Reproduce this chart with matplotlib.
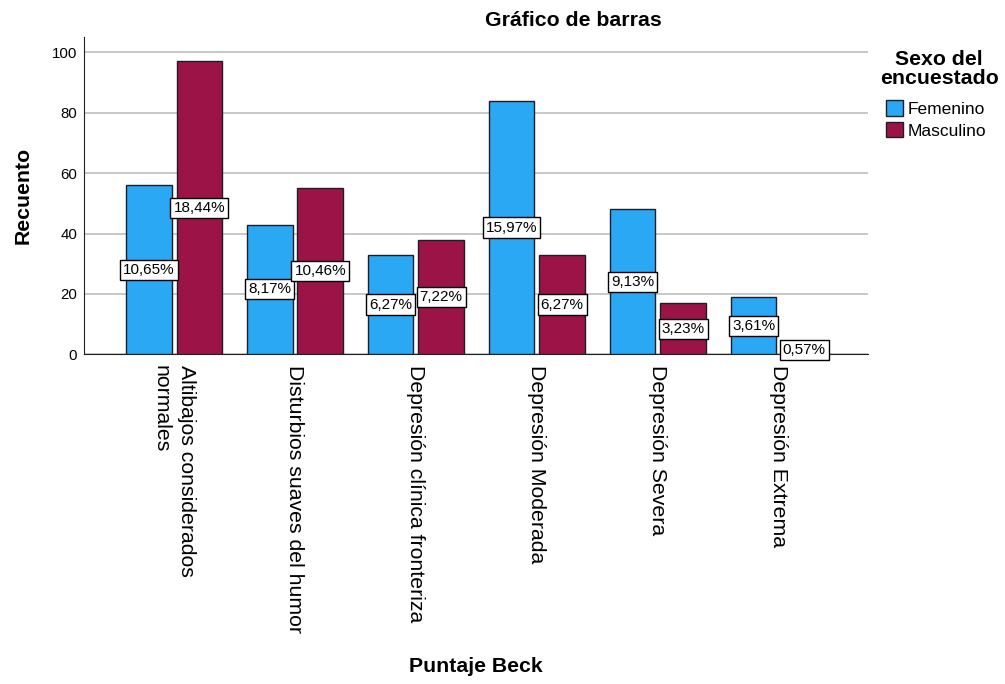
import matplotlib
matplotlib.use("Agg")
import matplotlib.pyplot as plt
import numpy as np

plt.rcParams['font.family'] = ['Liberation Sans', 'DejaVu Sans']

# Beck score categories and counts by sex
categorias = [
    'Altibajos considerados\nnormales',
    'Disturbios suaves del humor',
    'Depresión clínica fronteriza',
    'Depresión Moderada',
    'Depresión Severa',
    'Depresión Extrema',
]
femenino = [56, 43, 33, 84, 48, 19]
masculino = [97, 55, 38, 33, 17, 3]
series = ['Femenino', 'Masculino']
colores = ['#2aa8f4', '#9c1447']

total = sum(femenino) + sum(masculino)

fig = plt.figure(figsize=(10.05, 6.84), dpi=100)
ax = fig.add_axes([0.0836, 0.482, 0.780, 0.4643])

x = np.arange(len(categorias))
ancho = 0.377
desplaz = 0.209

for valores, nombre, color, signo in zip([femenino, masculino], series, colores, [-1, 1]):
    pos = x + signo * desplaz
    ax.bar(pos, valores, width=ancho, color=color, edgecolor='#1e1e2a',
           linewidth=1.0, label=nombre, zorder=3)
    for xi, v in zip(pos, valores):
        pct = v / total * 100
        ax.text(xi, v / 2, f"{pct:.2f}%".replace('.', ','), ha='center', va='center',
                fontsize=11, color='black', zorder=5,
                bbox=dict(boxstyle='square,pad=0.2', facecolor='white',
                          edgecolor='black', linewidth=1.0))

ax.set_xlim(-0.744, 5.736)
ax.set_ylim(0, 105.2)
ax.set_yticks([0, 20, 40, 60, 80, 100])
ax.yaxis.grid(True, color='#c4c4c4', linewidth=1.3, zorder=0)
ax.set_axisbelow(True)

ax.spines['top'].set_visible(False)
ax.spines['right'].set_visible(False)
ax.spines['left'].set_color('#222222')
ax.spines['bottom'].set_color('#222222')

ax.tick_params(axis='y', length=0, pad=5, labelsize=10.8)
ax.tick_params(axis='x', length=0, pad=8)
ax.set_xticks(x)
ax.set_xticklabels(categorias, rotation=270, ha='center', va='top',
                   multialignment='left', linespacing=1.4, fontsize=15.3)

ax.set_ylabel('Recuento', fontsize=15.3, fontweight='bold')
ax.yaxis.set_label_coords(-0.066, 0.5)
ax.set_xlabel('Puntaje Beck', fontsize=15.3, fontweight='bold')
ax.xaxis.set_label_coords(0.5, -0.954)

fig.text(573 / 1005, 1 - 20 / 684, 'Gráfico de barras', ha='center', va='center',
         fontsize=15.3, fontweight='bold')

# legend block at the right
fig.text(939 / 1005, 1 - 69 / 684, 'Sexo del\nencuestado', ha='center', va='center',
         fontsize=15.3, fontweight='bold', linespacing=0.95)
leg = ax.legend(loc='upper left', bbox_to_anchor=(886 / 1005, 1 - 100 / 684),
                bbox_transform=fig.transFigure, frameon=False, fontsize=12.5,
                handlelength=1.0, handleheight=1.0, handletextpad=0.25,
                labelspacing=0.3, borderpad=0, borderaxespad=0)

fig.savefig('out.png', dpi=100)
